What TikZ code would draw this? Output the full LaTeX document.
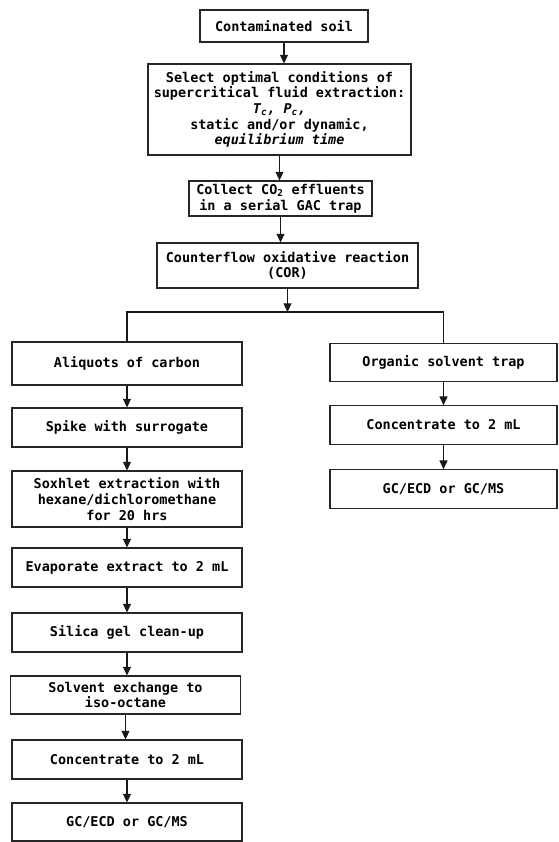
\documentclass[tikz,border=0pt]{standalone}
\usepackage{fontspec}
\setmainfont{DejaVu Sans Mono}
\usetikzlibrary{arrows.meta}
\tikzset{
  >={Triangle[length=2.6mm, width=2.4mm]},
  box/.style={rectangle, draw=black!85, line width=0.9pt, align=center,
              inner sep=1pt, font=\fontsize{11.5}{13.4}\selectfont\bfseries},
  boxl/.style={box, minimum width=6.9cm, minimum height=1.17cm},
  boxr/.style={box, minimum width=6.81cm, minimum height=1.16cm},
  flow/.style={->, line width=0.9pt, draw=black!90},
  link/.style={line width=0.9pt, draw=black!90},
}
\begin{document}
\begin{tikzpicture}[x=0.03cm, y=-0.03cm]
  \useasboundingbox (0,0) rectangle (558,842);
  % main stem
  \node[box, minimum width=5.04cm, minimum height=0.96cm] (soil) at (284,26) {Contaminated soil};
  \node[box, minimum width=7.89cm, minimum height=2.73cm] (sfe) at (279.5,109.5)
    {Select optimal conditions of\\supercritical fluid extraction:\\
     \textit{T\textsubscript{c}, P\textsubscript{c},}\\static and/or dynamic,\\\textit{equilibrium time}};
  \node[box, minimum width=5.49cm, minimum height=1.05cm] (gac) at (280.5,198.5)
    {Collect CO\textsubscript{2} effluents\\in a serial GAC trap};
  \node[box, minimum width=7.83cm, minimum height=1.35cm] (cor) at (287.5,265.5)
    {Counterflow oxidative reaction\\(COR)};
  \coordinate (split) at (287.5,312);
  % carbon branch
  \node[boxl, minimum height=1.29cm] (aliq) at (127,363.5) {Aliquots of carbon};
  \node[boxl] (spike) at (127,427.5) {Spike with surrogate};
  \node[boxl, minimum height=1.68cm] (soxh) at (127,499)
    {Soxhlet extraction with\\hexane/dichloromethane\\for 20 hrs};
  \node[boxl] (evap) at (127,567.5) {Evaporate extract to 2 mL};
  \node[boxl] (silica) at (127,632.5) {Silica gel clean-up};
  \node[boxl, minimum height=1.14cm] (exch) at (125.5,695) {Solvent exchange to\\iso-octane};
  \node[boxl] (concl) at (127,759.5) {Concentrate to 2 mL};
  \node[boxl, minimum height=1.14cm] (gcl) at (127,822) {GC/ECD or GC/MS};
  % solvent branch
  \node[boxr] (trap) at (443.5,362.5) {Organic solvent trap};
  \node[boxr] (concr) at (443.5,425) {Concentrate to 2 mL};
  \node[boxr] (gcr) at (443.5,489) {GC/ECD or GC/MS};
  % arrows
  \draw[flow] (soil) -- (soil |- sfe.north);
  \draw[flow] (sfe) -- (sfe |- gac.north);
  \draw[flow] (gac) -- (gac |- cor.north);
  \draw[flow] (cor) -- (split);
  \draw[link] (aliq.north) |- (split) -| (trap.north);
  \foreach \a/\b in {aliq/spike, spike/soxh, soxh/evap, evap/silica, silica/exch, exch/concl, concl/gcl, trap/concr, concr/gcr}
    \draw[flow] (\a) -- (\a |- \b.north);
\end{tikzpicture}
\end{document}
